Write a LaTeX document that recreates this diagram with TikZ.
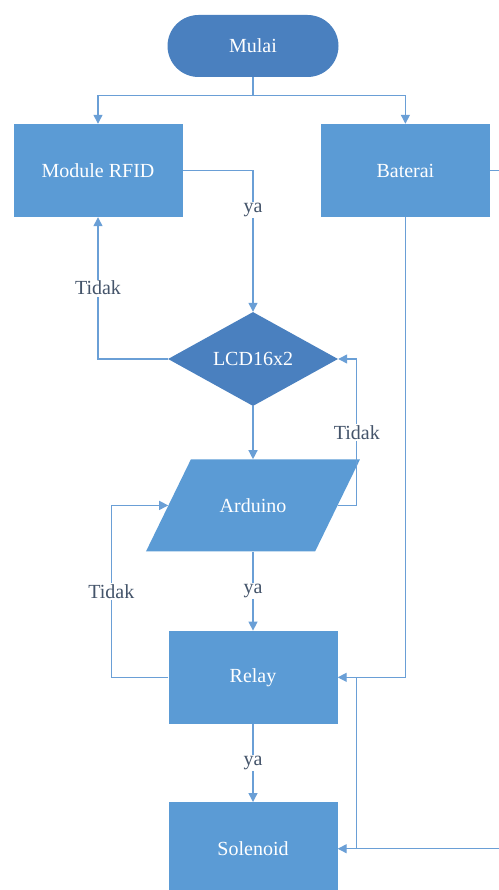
\documentclass[tikz,border=0pt]{standalone}
\usepackage{fontspec}
\setmainfont{Liberation Serif}
\newfontfamily\chartserif{Liberation Serif}
\usepackage{xcolor}
\usetikzlibrary{calc,positioning,shapes.geometric,arrows.meta}
\definecolor{BoxFill}{HTML}{5B9BD5}
\definecolor{TermFill}{HTML}{4A80BF}
\definecolor{LinkBlue}{HTML}{6A9FD6}
\definecolor{LabelSlate}{HTML}{44546A}
\newcommand{\chartfont}{\chartserif\fontsize{20}{23}\selectfont}

\begin{document}
\begin{tikzpicture}[x=1pt,y=-1pt,
        boxnode/.style={fill=BoxFill, text=white, minimum width=169pt,
            minimum height=93pt, inner sep=0pt, font=\chartfont},
        termnode/.style={fill=TermFill, text=white, rounded corners=31pt,
            minimum width=171pt, minimum height=62pt, font=\chartfont},
        asknode/.style={diamond, aspect=1.8, fill=TermFill, text=white,
            minimum width=170pt, minimum height=94pt, inner sep=0pt, font=\chartfont},
        ionode/.style={trapezium, trapezium left angle=64, trapezium right angle=116,
            trapezium stretches body, fill=BoxFill, text=white,
            text height=14pt, text depth=0pt, inner xsep=0pt, inner ysep=39pt,
            minimum width=214pt, font=\chartfont},
        flow/.style={draw=LinkBlue, line width=1.3pt, -{Triangle[width=9pt,length=9pt]}},
        plain/.style={draw=LinkBlue, line width=1.3pt},
        lbl/.style={fill=white, text=LabelSlate, inner sep=1.5pt, font=\chartfont}
    ]
    \useasboundingbox (0,0) rectangle (498,890);

    \node[termnode] (mulai) at (253,46) {Mulai};
    \node[boxnode] (rfid) at (98,170.5) {Module RFID};
    \node[boxnode, right=138pt of rfid] (baterai) {Baterai};
    \node[asknode] (lcd) at (253,359) {LCD16x2};
    \node[ionode, below=53pt of lcd] (arduino) {Arduino};
    \node[boxnode, below=79pt of arduino] (relay) {Relay};
    \node[boxnode, below=78pt of relay] (solenoid) {Solenoid};

    % start splits to both branches
    \draw[flow] (mulai.south) -- ++(0,18) -| (rfid.north);
    \draw[flow] (mulai.south) -- ++(0,18) -| (baterai.north);

    \draw[flow] (rfid.east) -| node[lbl, pos=0.64] {ya} (lcd.north);
    \draw[flow] (lcd.west) -| node[lbl, pos=0.75] {Tidak} (rfid.south);
    \draw[flow] (lcd.south) -- (arduino.north);
    \draw[flow] (arduino.right side) -- ++(19,0) |- node[lbl, pos=0.25] {Tidak} (lcd.east);
    \draw[flow] (arduino.south) -- node[lbl] {ya} (relay.north);
    \draw[flow] (relay.west) -- ++(-57,0) |- node[lbl, pos=0.25] {Tidak} (arduino.left side);
    \draw[flow] (relay.south) -- node[lbl] {ya} (solenoid.north);

    % power lines
    \draw[flow] (baterai.south) |- (relay.east);
    \draw[flow] (baterai.east) -- ++(40,0) |- (solenoid.east);
    \path (solenoid.east) ++(19,0) coordinate (tap);
    \draw[plain] (tap) -- (tap |- relay.east);
\end{tikzpicture}
\end{document}
